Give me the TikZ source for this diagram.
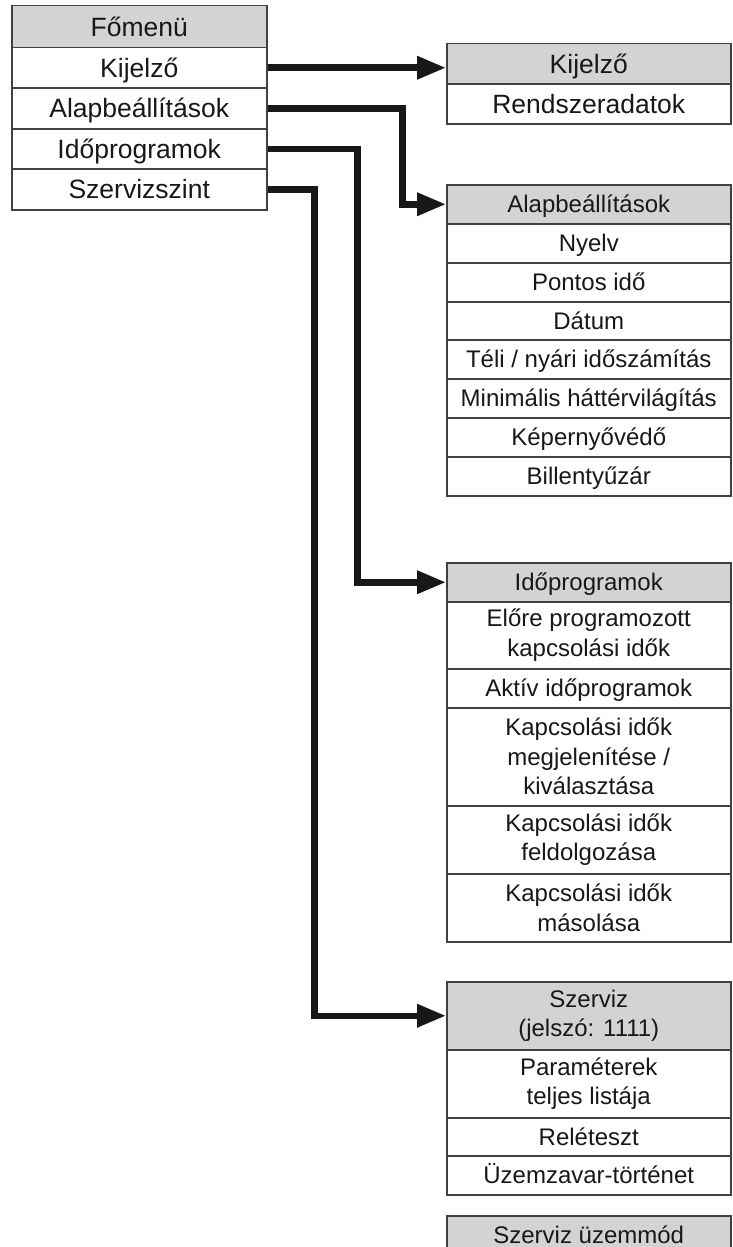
\documentclass[tikz,border=0pt]{standalone}
\usepackage{fontspec}
\setmainfont{Liberation Sans}
\usetikzlibrary{arrows.meta}
\definecolor{hdr}{HTML}{D1D3D4}
\definecolor{bord}{HTML}{414042}
\definecolor{ink}{HTML}{1A1718}
\tikzset{
 cell/.style={draw=bord, line width=1.5pt, fill=white, inner sep=0pt, anchor=north west, text=ink, align=center},
 mainw/.style={minimum width=255pt, font=\fontsize{26.5}{31}\selectfont},
 subw/.style={minimum width=284pt, font=\fontsize{24}{29.5}\selectfont},
 bigw/.style={minimum width=284pt, font=\fontsize{26.5}{31}\selectfont},
 hd/.style={fill=hdr},
 one/.style={text height=17.2pt, text depth=0pt},
 oneb/.style={text height=19pt, text depth=0pt},
 conn/.style={draw=ink, line width=6.5pt, -{Triangle[length=29pt,width=22pt]}},
}
\begin{document}
\begin{tikzpicture}[x=1pt,y=-1pt]
\useasboundingbox (0,0) rectangle (732,1247);
\clip (0,0) rectangle (732,1247);
% main menu
\node[cell,mainw,hd,oneb,minimum height=42pt] (m0) at (11,5) {Főmenü};
\node[cell,mainw,oneb,minimum height=40pt] (m1) at (11,47) {Kijelző};
\node[cell,mainw,oneb,minimum height=41pt] (m2) at (11,87) {Alapbeállítások};
\node[cell,mainw,oneb,minimum height=40pt] (m3) at (11,128) {Időprogramok};
\node[cell,mainw,oneb,minimum height=41pt] (m4) at (11,168) {Szervizszint};
% Kijelző
\node[cell,bigw,hd,oneb,minimum height=40pt] (k0) at (446,43) {Kijelző};
\node[cell,bigw,oneb,minimum height=40pt] (k1) at (446,83) {Rendszeradatok};
% Alapbeállítások
\node[cell,subw,hd,one,minimum height=39pt] (a0) at (446,184) {Alapbeállítások};
\node[cell,subw,one,minimum height=39pt] (a1) at (446,223) {Nyelv};
\node[cell,subw,one,minimum height=39pt] (a2) at (446,262) {Pontos idő};
\node[cell,subw,one,minimum height=38pt] (a3) at (446,301) {Dátum};
\node[cell,subw,one,minimum height=39pt] (a4) at (446,339) {Téli / nyári időszámítás};
\node[cell,subw,one,minimum height=39pt] (a5) at (446,378) {Minimális háttérvilágítás};
\node[cell,subw,one,minimum height=39pt] (a6) at (446,417) {Képernyővédő};
\node[cell,subw,one,minimum height=39pt] (a7) at (446,456) {Billentyűzár};
% Időprogramok
\node[cell,subw,hd,one,minimum height=39pt] (i0) at (446,562) {Időprogramok};
\node[cell,subw,minimum height=67pt] (i1) at (446,601) {Előre programozott\\kapcsolási idők};
\node[cell,subw,one,minimum height=39pt] (i2) at (446,668) {Aktív időprogramok};
\node[cell,subw,minimum height=98pt] (i3) at (446,707) {Kapcsolási idők\\megjelenítése /\\kiválasztása};
\node[cell,subw,minimum height=68pt] (i4) at (446,805) {Kapcsolási idők\\feldolgozása};
\node[cell,subw,minimum height=68pt] (i5) at (446,873) {Kapcsolási idők\\másolása};
% Szerviz
\node[cell,subw,hd,minimum height=68pt] (s0) at (446,981) {Szerviz\\(jelszó: 1111)};
\node[cell,subw,minimum height=68pt] (s1) at (446,1049) {Paraméterek\\teljes listája};
\node[cell,subw,one,minimum height=38pt] (s2) at (446,1117) {Reléteszt};
\node[cell,subw,one,minimum height=39pt] (s3) at (446,1155) {Üzemzavar-történet};
\node[cell,subw,hd,one,minimum height=39pt] (u0) at (446,1215) {Szerviz üzemmód};
% connectors
\draw[conn] (m1.east) -- (m1.east -| k0.west);
\draw[conn] (m2.east) -- ++(135,0) |- (a0.west);
\draw[conn] (m3.east) -- ++(90,0) |- (i0.west);
\draw[conn] (m4.east) -- ++(47,0) |- (s0.west);
\end{tikzpicture}
\end{document}
